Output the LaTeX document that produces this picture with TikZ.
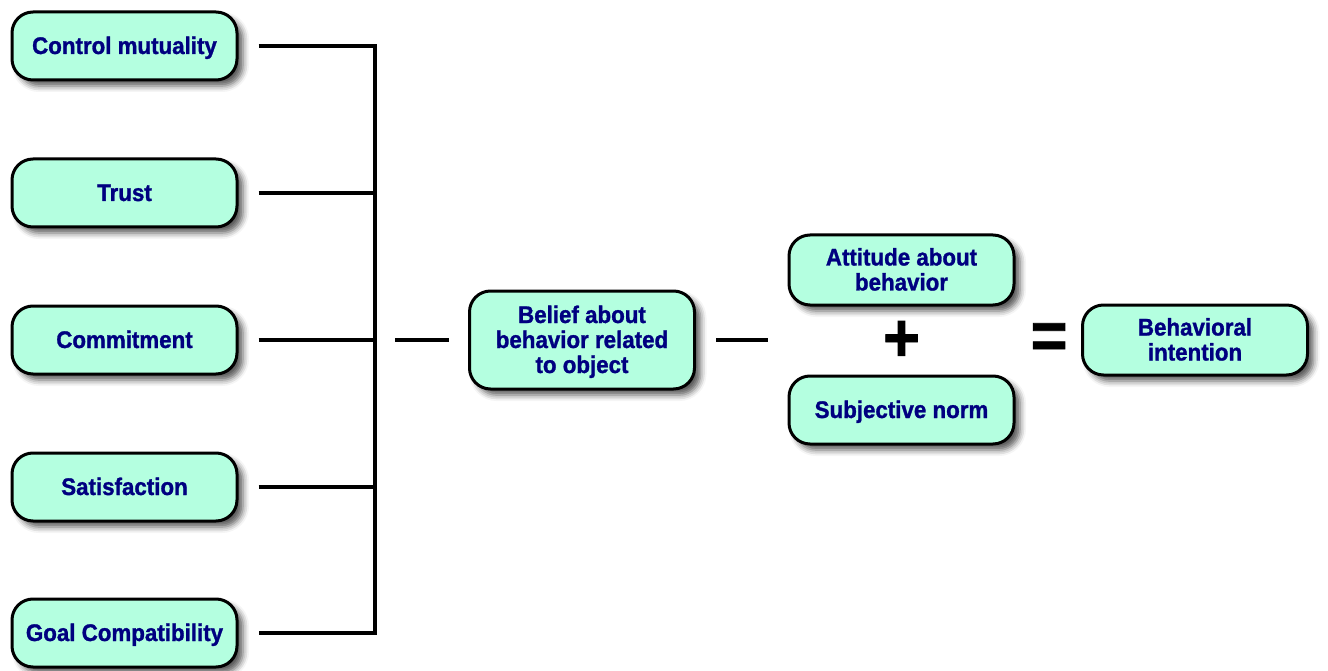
\documentclass[tikz,border=0pt]{standalone}
\usepackage{fontspec}
\setmainfont{Liberation Sans}[BoldFeatures={FakeStretch=0.93,FakeBold=1.2}]
\usetikzlibrary{shadows.blur,calc}
\definecolor{boxfill}{RGB}{180,255,224}
\definecolor{txtcol}{RGB}{0,0,128}
\tikzset{
  box/.style={draw=black, line width=3pt, fill=boxfill, rounded corners=21pt,
    minimum width=225pt, minimum height=68pt, align=center, text=txtcol,
    font=\fontsize{24}{25}\selectfont\bfseries, inner sep=0pt,
    text height=17pt, text depth=1pt,
    blur shadow={shadow xshift=6pt, shadow yshift=-6pt, shadow blur radius=6pt, shadow opacity=65}},
  twoline/.style={text height=42pt, text depth=1pt},
  threeline/.style={text height=67pt, text depth=1pt},
  conn/.style={line width=4pt, draw=black},
  sym/.style={font=\fontsize{68}{68}\selectfont\bfseries, inner sep=0pt, text=black}
}
\begin{document}
\begin{tikzpicture}[x=1pt,y=-1pt]
\useasboundingbox (0,0) rectangle (1328,671);
\node[box] (cm) at (124.5,46) {Control mutuality};
\node[box] (tr) at (124.5,193) {Trust};
\node[box] (co) at (124.5,340) {Commitment};
\node[box] (sa) at (124.5,487) {Satisfaction};
\node[box] (gc) at (124.5,633) {Goal Compatibility};
\node[box, threeline, minimum height=98pt] (bel) at (582,340) {Belief about\\behavior related\\to object};
\node[box, twoline, minimum height=70pt] (att) at (901.5,270) {Attitude about\\behavior};
\node[box] (sub) at (901.5,410) {Subjective norm};
\node[box, twoline, minimum height=70pt] (bi) at (1195,340) {Behavioral\\intention};
\node[sym] (plus) at (901.5,341) {+};
\node[sym] (eq) at (1049,341) {=};
\coordinate (j1) at (375,46);
\coordinate (j2) at (375,193);
\coordinate (j3) at (375,340);
\coordinate (j4) at (375,487);
\coordinate (j5) at (375,633);
\draw[conn] ([xshift=20pt]cm.east) -- (j1) -- (j5) -- ([xshift=20pt]gc.east);
\draw[conn] ([xshift=20pt]tr.east) -- (j2);
\draw[conn] ([xshift=20pt]co.east) -- (j3);
\draw[conn] ([xshift=20pt]sa.east) -- (j4);
\draw[conn] ([xshift=20pt]j3) -- ([xshift=-19pt]bel.west);
\draw[conn] ([xshift=20pt]bel.east) -- ([xshift=-20pt]bel.east -| att.west);
\end{tikzpicture}
\end{document}
